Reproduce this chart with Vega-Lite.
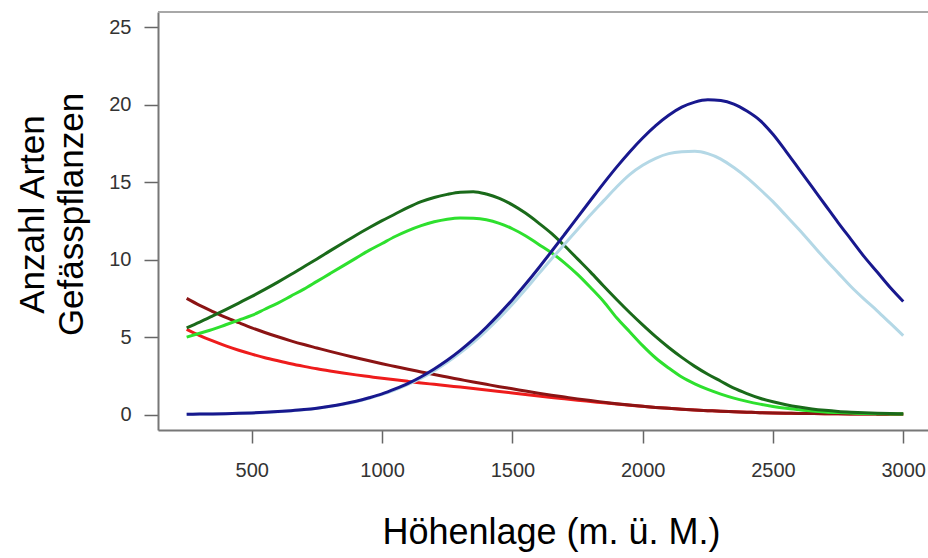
{
  "$schema": "https://vega.github.io/schema/vega-lite/v6.json",
  "autosize": {"type": "none"},
  "padding": {"left": 158, "top": 12, "right": 0, "bottom": 128},
  "width": 770,
  "height": 418,
  "background": "white",
  "config": {
    "view": {"stroke": null},
    "font": "Liberation Sans",
    "axis": {"grid": false, "labelFont": "Liberation Sans", "titleFont": "Liberation Sans"}
  },
  "datasets": {
    "kurven": [
      {"h": 250, "a_rot": 5.5, "b_dunkelrot": 7.5, "c_hellgruen": 5.0, "d_dunkelgruen": 5.6, "e_hellblau": 0.02, "f_dunkelblau": 0.02},
      {"h": 300, "a_rot": 5.1, "b_dunkelrot": 7.05, "c_hellgruen": 5.25, "d_dunkelgruen": 5.97, "e_hellblau": 0.03, "f_dunkelblau": 0.03},
      {"h": 350, "a_rot": 4.75, "b_dunkelrot": 6.65, "c_hellgruen": 5.5, "d_dunkelgruen": 6.37, "e_hellblau": 0.04, "f_dunkelblau": 0.04},
      {"h": 400, "a_rot": 4.43, "b_dunkelrot": 6.27, "c_hellgruen": 5.8, "d_dunkelgruen": 6.78, "e_hellblau": 0.055, "f_dunkelblau": 0.057},
      {"h": 450, "a_rot": 4.15, "b_dunkelrot": 5.93, "c_hellgruen": 6.1, "d_dunkelgruen": 7.2, "e_hellblau": 0.075, "f_dunkelblau": 0.078},
      {"h": 500, "a_rot": 3.9, "b_dunkelrot": 5.6, "c_hellgruen": 6.4, "d_dunkelgruen": 7.63, "e_hellblau": 0.1, "f_dunkelblau": 0.105},
      {"h": 550, "a_rot": 3.67, "b_dunkelrot": 5.3, "c_hellgruen": 6.8, "d_dunkelgruen": 8.08, "e_hellblau": 0.13, "f_dunkelblau": 0.14},
      {"h": 600, "a_rot": 3.47, "b_dunkelrot": 5.02, "c_hellgruen": 7.2, "d_dunkelgruen": 8.55, "e_hellblau": 0.18, "f_dunkelblau": 0.19},
      {"h": 650, "a_rot": 3.28, "b_dunkelrot": 4.76, "c_hellgruen": 7.65, "d_dunkelgruen": 9.04, "e_hellblau": 0.24, "f_dunkelblau": 0.25},
      {"h": 700, "a_rot": 3.11, "b_dunkelrot": 4.52, "c_hellgruen": 8.1, "d_dunkelgruen": 9.55, "e_hellblau": 0.31, "f_dunkelblau": 0.32},
      {"h": 750, "a_rot": 2.95, "b_dunkelrot": 4.3, "c_hellgruen": 8.6, "d_dunkelgruen": 10.05, "e_hellblau": 0.4, "f_dunkelblau": 0.41},
      {"h": 800, "a_rot": 2.81, "b_dunkelrot": 4.08, "c_hellgruen": 9.1, "d_dunkelgruen": 10.57, "e_hellblau": 0.52, "f_dunkelblau": 0.53},
      {"h": 850, "a_rot": 2.68, "b_dunkelrot": 3.87, "c_hellgruen": 9.6, "d_dunkelgruen": 11.08, "e_hellblau": 0.66, "f_dunkelblau": 0.68},
      {"h": 900, "a_rot": 2.56, "b_dunkelrot": 3.67, "c_hellgruen": 10.1, "d_dunkelgruen": 11.58, "e_hellblau": 0.83, "f_dunkelblau": 0.86},
      {"h": 950, "a_rot": 2.45, "b_dunkelrot": 3.47, "c_hellgruen": 10.6, "d_dunkelgruen": 12.06, "e_hellblau": 1.05, "f_dunkelblau": 1.08},
      {"h": 1000, "a_rot": 2.34, "b_dunkelrot": 3.28, "c_hellgruen": 11.05, "d_dunkelgruen": 12.52, "e_hellblau": 1.3, "f_dunkelblau": 1.33},
      {"h": 1050, "a_rot": 2.24, "b_dunkelrot": 3.1, "c_hellgruen": 11.5, "d_dunkelgruen": 12.95, "e_hellblau": 1.6, "f_dunkelblau": 1.65},
      {"h": 1100, "a_rot": 2.14, "b_dunkelrot": 2.92, "c_hellgruen": 11.88, "d_dunkelgruen": 13.38, "e_hellblau": 1.95, "f_dunkelblau": 2.01},
      {"h": 1150, "a_rot": 2.04, "b_dunkelrot": 2.75, "c_hellgruen": 12.2, "d_dunkelgruen": 13.75, "e_hellblau": 2.35, "f_dunkelblau": 2.44},
      {"h": 1200, "a_rot": 1.95, "b_dunkelrot": 2.58, "c_hellgruen": 12.45, "d_dunkelgruen": 14.02, "e_hellblau": 2.82, "f_dunkelblau": 2.94},
      {"h": 1250, "a_rot": 1.86, "b_dunkelrot": 2.42, "c_hellgruen": 12.62, "d_dunkelgruen": 14.22, "e_hellblau": 3.37, "f_dunkelblau": 3.5},
      {"h": 1300, "a_rot": 1.77, "b_dunkelrot": 2.26, "c_hellgruen": 12.7, "d_dunkelgruen": 14.36, "e_hellblau": 3.98, "f_dunkelblau": 4.14},
      {"h": 1350, "a_rot": 1.68, "b_dunkelrot": 2.1, "c_hellgruen": 12.68, "d_dunkelgruen": 14.39, "e_hellblau": 4.66, "f_dunkelblau": 4.85},
      {"h": 1400, "a_rot": 1.58, "b_dunkelrot": 1.95, "c_hellgruen": 12.58, "d_dunkelgruen": 14.24, "e_hellblau": 5.42, "f_dunkelblau": 5.64},
      {"h": 1450, "a_rot": 1.49, "b_dunkelrot": 1.8, "c_hellgruen": 12.35, "d_dunkelgruen": 13.96, "e_hellblau": 6.24, "f_dunkelblau": 6.5},
      {"h": 1500, "a_rot": 1.39, "b_dunkelrot": 1.66, "c_hellgruen": 12.0, "d_dunkelgruen": 13.54, "e_hellblau": 7.12, "f_dunkelblau": 7.42},
      {"h": 1550, "a_rot": 1.29, "b_dunkelrot": 1.52, "c_hellgruen": 11.55, "d_dunkelgruen": 13.01, "e_hellblau": 8.07, "f_dunkelblau": 8.41},
      {"h": 1600, "a_rot": 1.2, "b_dunkelrot": 1.38, "c_hellgruen": 11.0, "d_dunkelgruen": 12.38, "e_hellblau": 9.07, "f_dunkelblau": 9.45},
      {"h": 1650, "a_rot": 1.1, "b_dunkelrot": 1.25, "c_hellgruen": 10.45, "d_dunkelgruen": 11.7, "e_hellblau": 10.05, "f_dunkelblau": 10.53},
      {"h": 1700, "a_rot": 1.01, "b_dunkelrot": 1.13, "c_hellgruen": 9.8, "d_dunkelgruen": 10.9, "e_hellblau": 11.0, "f_dunkelblau": 11.63},
      {"h": 1750, "a_rot": 0.92, "b_dunkelrot": 1.01, "c_hellgruen": 9.05, "d_dunkelgruen": 10.05, "e_hellblau": 11.95, "f_dunkelblau": 12.74},
      {"h": 1800, "a_rot": 0.84, "b_dunkelrot": 0.9, "c_hellgruen": 8.2, "d_dunkelgruen": 9.2, "e_hellblau": 12.9, "f_dunkelblau": 13.84},
      {"h": 1850, "a_rot": 0.76, "b_dunkelrot": 0.8, "c_hellgruen": 7.3, "d_dunkelgruen": 8.3, "e_hellblau": 13.8, "f_dunkelblau": 14.93},
      {"h": 1900, "a_rot": 0.68, "b_dunkelrot": 0.7, "c_hellgruen": 6.25, "d_dunkelgruen": 7.43, "e_hellblau": 14.7, "f_dunkelblau": 15.98},
      {"h": 1950, "a_rot": 0.6, "b_dunkelrot": 0.61, "c_hellgruen": 5.35, "d_dunkelgruen": 6.59, "e_hellblau": 15.5, "f_dunkelblau": 16.96},
      {"h": 2000, "a_rot": 0.53, "b_dunkelrot": 0.53, "c_hellgruen": 4.45, "d_dunkelgruen": 5.79, "e_hellblau": 16.1, "f_dunkelblau": 17.86},
      {"h": 2050, "a_rot": 0.46, "b_dunkelrot": 0.46, "c_hellgruen": 3.65, "d_dunkelgruen": 5.03, "e_hellblau": 16.55, "f_dunkelblau": 18.66},
      {"h": 2100, "a_rot": 0.4, "b_dunkelrot": 0.4, "c_hellgruen": 3.0, "d_dunkelgruen": 4.33, "e_hellblau": 16.85, "f_dunkelblau": 19.33},
      {"h": 2150, "a_rot": 0.34, "b_dunkelrot": 0.34, "c_hellgruen": 2.42, "d_dunkelgruen": 3.69, "e_hellblau": 16.97, "f_dunkelblau": 19.85},
      {"h": 2200, "a_rot": 0.29, "b_dunkelrot": 0.29, "c_hellgruen": 1.98, "d_dunkelgruen": 3.11, "e_hellblau": 17.0, "f_dunkelblau": 20.18},
      {"h": 2250, "a_rot": 0.25, "b_dunkelrot": 0.25, "c_hellgruen": 1.62, "d_dunkelgruen": 2.6, "e_hellblau": 16.85, "f_dunkelblau": 20.33},
      {"h": 2300, "a_rot": 0.21, "b_dunkelrot": 0.21, "c_hellgruen": 1.32, "d_dunkelgruen": 2.15, "e_hellblau": 16.5, "f_dunkelblau": 20.28},
      {"h": 2350, "a_rot": 0.18, "b_dunkelrot": 0.18, "c_hellgruen": 1.06, "d_dunkelgruen": 1.7, "e_hellblau": 15.95, "f_dunkelblau": 20.05},
      {"h": 2400, "a_rot": 0.15, "b_dunkelrot": 0.15, "c_hellgruen": 0.85, "d_dunkelgruen": 1.35, "e_hellblau": 15.3, "f_dunkelblau": 19.6},
      {"h": 2450, "a_rot": 0.12, "b_dunkelrot": 0.12, "c_hellgruen": 0.67, "d_dunkelgruen": 1.05, "e_hellblau": 14.55, "f_dunkelblau": 19.0},
      {"h": 2500, "a_rot": 0.1, "b_dunkelrot": 0.1, "c_hellgruen": 0.52, "d_dunkelgruen": 0.82, "e_hellblau": 13.75, "f_dunkelblau": 18.1},
      {"h": 2550, "a_rot": 0.085, "b_dunkelrot": 0.085, "c_hellgruen": 0.4, "d_dunkelgruen": 0.63, "e_hellblau": 12.85, "f_dunkelblau": 17.0},
      {"h": 2600, "a_rot": 0.07, "b_dunkelrot": 0.07, "c_hellgruen": 0.31, "d_dunkelgruen": 0.48, "e_hellblau": 11.95, "f_dunkelblau": 15.85},
      {"h": 2650, "a_rot": 0.06, "b_dunkelrot": 0.06, "c_hellgruen": 0.23, "d_dunkelgruen": 0.36, "e_hellblau": 11.0, "f_dunkelblau": 14.7},
      {"h": 2700, "a_rot": 0.05, "b_dunkelrot": 0.05, "c_hellgruen": 0.17, "d_dunkelgruen": 0.27, "e_hellblau": 10.05, "f_dunkelblau": 13.55},
      {"h": 2750, "a_rot": 0.042, "b_dunkelrot": 0.042, "c_hellgruen": 0.13, "d_dunkelgruen": 0.2, "e_hellblau": 9.15, "f_dunkelblau": 12.4},
      {"h": 2800, "a_rot": 0.035, "b_dunkelrot": 0.035, "c_hellgruen": 0.1, "d_dunkelgruen": 0.15, "e_hellblau": 8.25, "f_dunkelblau": 11.3},
      {"h": 2850, "a_rot": 0.03, "b_dunkelrot": 0.03, "c_hellgruen": 0.07, "d_dunkelgruen": 0.11, "e_hellblau": 7.45, "f_dunkelblau": 10.2},
      {"h": 2900, "a_rot": 0.025, "b_dunkelrot": 0.025, "c_hellgruen": 0.05, "d_dunkelgruen": 0.08, "e_hellblau": 6.7, "f_dunkelblau": 9.2},
      {"h": 2950, "a_rot": 0.022, "b_dunkelrot": 0.022, "c_hellgruen": 0.04, "d_dunkelgruen": 0.06, "e_hellblau": 5.9, "f_dunkelblau": 8.2},
      {"h": 3000, "a_rot": 0.02, "b_dunkelrot": 0.02, "c_hellgruen": 0.03, "d_dunkelgruen": 0.05, "e_hellblau": 5.1, "f_dunkelblau": 7.3}
    ],
    "rahmen": [{"oben": 26}]
  },
  "layer": [
    {
      "data": {"name": "rahmen"},
      "mark": {"type": "rule", "color": "#a8a8a8", "strokeWidth": 2},
      "encoding": {
        "y": {"field": "oben", "type": "quantitative"}
      }
    },
    {
      "data": {"name": "kurven"},
      "transform": [
        {"fold": ["a_rot", "b_dunkelrot", "c_hellgruen", "d_dunkelgruen", "e_hellblau", "f_dunkelblau"], "as": ["s", "n"]}
      ],
      "mark": {"type": "line", "strokeWidth": 3, "interpolate": "monotone", "clip": true},
      "encoding": {
        "x": {
          "field": "h", "type": "quantitative",
          "scale": {"domain": [140, 3095], "nice": false, "zero": false},
          "axis": {
            "values": [500, 1000, 1500, 2000, 2500, 3000], "format": "d",
            "title": "Höhenlage (m. ü. M.)",
            "titleFontSize": 36, "titleFontWeight": "normal", "titleColor": "#000",
            "titleX": 393, "titleY": 113, "titleAlign": "center", "titleBaseline": "alphabetic",
            "labelFontSize": 20, "labelColor": "#333", "labelPadding": 17,
            "tickSize": 13, "tickColor": "#666", "tickWidth": 1.5,
            "domainColor": "#777", "domainWidth": 2, "labelFlush": false, "labelOverlap": false
          }
        },
        "y": {
          "field": "n", "type": "quantitative",
          "scale": {"domain": [-1, 26], "nice": false, "zero": false},
          "axis": {
            "values": [0, 5, 10, 15, 20, 25], "format": "d",
            "title": ["Anzahl Arten", "Gefässpflanzen"],
            "titleFontSize": 35, "titleFontWeight": "normal", "titleColor": "#000",
            "titleAngle": -90, "titleAlign": "center", "titleBaseline": "alphabetic",
            "titleLineHeight": 39, "titleX": -115, "titleY": 202,
            "labelFontSize": 20, "labelColor": "#333", "labelPadding": 13,
            "tickSize": 14, "tickColor": "#666", "tickWidth": 1.5,
            "domainColor": "#777", "domainWidth": 2, "labelFlush": false, "labelOverlap": false
          }
        },
        "color": {
          "field": "s", "type": "nominal", "legend": null,
          "scale": {
            "domain": ["a_rot", "b_dunkelrot", "c_hellgruen", "d_dunkelgruen", "e_hellblau", "f_dunkelblau"],
            "range": ["#ee1c1c", "#8b1414", "#2ee02e", "#1a6a1a", "#b4d8e6", "#18188e"]
          }
        },
        "order": {"field": "h", "type": "quantitative"}
      }
    }
  ]
}
